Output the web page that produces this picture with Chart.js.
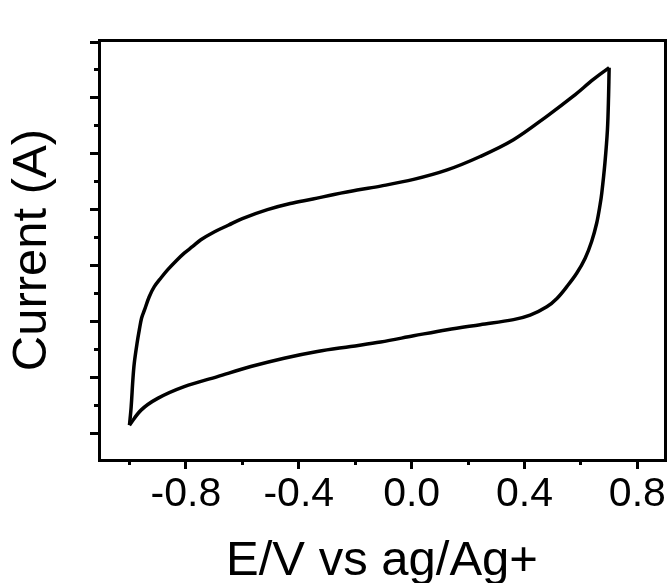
<!DOCTYPE html>
<html>
<head>
<meta charset="utf-8">
<script src="https://cdn.jsdelivr.net/npm/chart.js@4.4.1/dist/chart.umd.min.js"></script>
<style>
  html, body { margin: 0; padding: 0; background: #fff; }
  #wrap { width: 668px; height: 583px; position: relative; }
</style>
</head>
<body>
<div id="wrap"><canvas id="cv-chart"></canvas></div>
<script>
// forward scan (upper branch), -1.0 V -> 0.70 V
const fwdPotential = [-1.0, -0.994, -0.988, -0.983, -0.973, -0.965, -0.957, -0.947, -0.930, -0.912,
  -0.888, -0.865, -0.835, -0.806, -0.776, -0.747, -0.700, -0.650, -0.6, -0.511,
  -0.43, -0.35, -0.275, -0.193, -0.11, 0.007, 0.126, 0.243, 0.361,
  0.479, 0.573, 0.644, 0.70];
const fwdCurrent = [0.14, 0.47, 0.95, 1.25, 1.61, 1.85, 2.06, 2.2, 2.44, 2.62,
  2.78, 2.92, 3.08, 3.22, 3.34, 3.46, 3.6, 3.72, 3.84, 4.0,
  4.11, 4.19, 4.27, 4.35, 4.42, 4.54, 4.71, 4.95, 5.25,
  5.67, 6.03, 6.33, 6.54];
// reverse scan (lower branch), 0.70 V -> -1.0 V
const revPotential = [0.70, 0.698, 0.694, 0.685, 0.674, 0.668, 0.656, 0.638, 0.615, 0.585,
  0.55, 0.515, 0.479, 0.42, 0.361, 0.243, 0.126, 0.007, -0.11, -0.216,
  -0.334, -0.452, -0.57, -0.688, -0.806, -0.9, -0.959, -1.0];
const revCurrent = [6.54, 6.03, 5.43, 4.83, 4.3, 4.09, 3.76, 3.43, 3.13, 2.86,
  2.62, 2.41, 2.26, 2.11, 2.03, 1.94, 1.85, 1.74, 1.63, 1.55,
  1.46, 1.34, 1.19, 1.01, 0.83, 0.62, 0.41, 0.14];

const xTicks = [-0.8, -0.4, 0.0, 0.4, 0.8];
const xMinorTicks = [-1.0, -0.6, -0.2, 0.2, 0.6];
const yTicks = [0, 1, 2, 3, 4, 5, 6, 7];
const yMinorTicks = [0.5, 1.5, 2.5, 3.5, 4.5, 5.5, 6.5];

const xMin = -1.108, xMax = 0.898;
const yMin = -0.483, yMax = 7.036;

const FONT = "'Liberation Sans', Arial, sans-serif";

const toPoints = (xs, ys) => xs.map((x, i) => ({ x: x, y: ys[i] }));
const fixTicks = (list) => (axis) => { axis.ticks = list.map((v) => ({ value: v })); };

const tickGrid = (len) => ({
  display: true,
  drawOnChartArea: false,
  drawTicks: true,
  tickLength: len,
  tickWidth: 3,
  lineWidth: 3,
  color: "#000",
  tickColor: "#000",
});

const lineStyle = {
  showLine: true,
  borderColor: "#000",
  borderWidth: 3.5,
  pointRadius: 0,
  fill: false,
  tension: 0.35,
};

new Chart(document.getElementById("cv-chart").getContext("2d"), {
  type: "scatter",
  data: {
    datasets: [
      Object.assign({ label: "forward", data: toPoints(fwdPotential, fwdCurrent) }, lineStyle),
      Object.assign({ label: "reverse", data: toPoints(revPotential, revCurrent) }, lineStyle),
    ],
  },
  options: {
    responsive: true,
    maintainAspectRatio: false,
    animation: false,
    layout: { padding: { left: 0, right: 3, top: 40, bottom: 0 } },
    plugins: {
      legend: { display: false },
      tooltip: { enabled: false },
    },
    scales: {
      x: {
        type: "linear",
        position: "bottom",
        weight: 1,
        min: xMin,
        max: xMax,
        afterBuildTicks: fixTicks(xTicks),
        afterFit: (scale) => { scale.height = 123; },
        grid: tickGrid(9),
        border: { display: true, color: "#000", width: 3 },
        ticks: {
          color: "#000",
          padding: 1,
          maxRotation: 0,
          font: { family: FONT, size: 41 },
          callback: (v) => Number(v).toFixed(1),
        },
        title: {
          display: true,
          text: "E/V vs ag/Ag+",
          color: "#000",
          font: { family: FONT, size: 49, lineHeight: 1 },
          padding: { top: 0, bottom: -3 },
        },
      },
      xMinor: {
        type: "linear",
        position: "bottom",
        weight: 0,
        min: xMin,
        max: xMax,
        afterBuildTicks: fixTicks(xMinorTicks),
        afterFit: (scale) => { scale.height = 0; },
        grid: tickGrid(5),
        border: { display: false },
        ticks: { display: false },
      },
      xTop: {
        type: "linear",
        position: "top",
        min: xMin,
        max: xMax,
        afterFit: (scale) => { scale.height = 0; },
        grid: { display: false, drawOnChartArea: false, drawTicks: false },
        border: { display: true, color: "#000", width: 3 },
        ticks: { display: false },
      },
      y: {
        type: "linear",
        position: "left",
        weight: 1,
        min: yMin,
        max: yMax,
        afterBuildTicks: fixTicks(yTicks),
        afterFit: (scale) => { scale.width = 99; },
        grid: tickGrid(9),
        border: { display: true, color: "#000", width: 3 },
        ticks: { display: false },
        title: {
          display: true,
          text: "Current (A)",
          color: "#000",
          font: { family: FONT, size: 49, lineHeight: 1 },
          padding: { top: 8, bottom: 0 },
        },
      },
      yMinor: {
        type: "linear",
        position: "left",
        weight: 0,
        min: yMin,
        max: yMax,
        afterBuildTicks: fixTicks(yMinorTicks),
        afterFit: (scale) => { scale.width = 0; },
        grid: tickGrid(5),
        border: { display: false },
        ticks: { display: false },
      },
      yRight: {
        type: "linear",
        position: "right",
        min: yMin,
        max: yMax,
        afterFit: (scale) => { scale.width = 0; },
        grid: { display: false, drawOnChartArea: false, drawTicks: false },
        border: { display: true, color: "#000", width: 3 },
        ticks: { display: false },
      },
    },
  },
});
</script>
</body>
</html>
